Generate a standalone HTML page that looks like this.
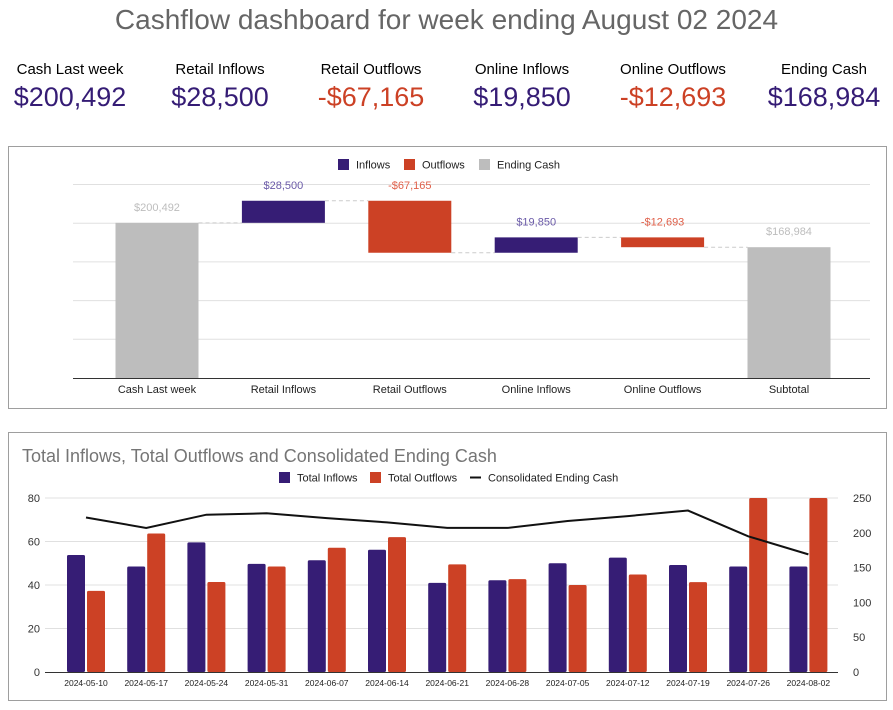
<!DOCTYPE html>
<html><head><meta charset="utf-8"><style>
body{margin:0;width:893px;height:710px;background:#fff;font-family:"Liberation Sans",Arial,sans-serif;position:relative;overflow:hidden}
.title{position:absolute;top:4px;left:0;width:893px;text-align:center;font-size:28px;color:#666}
.kpi{position:absolute;top:61px;width:150px;text-align:center}
.kpi .l{font-size:15px;color:#000}
.kpi .v{font-size:27px;margin-top:4px}
.panel{position:absolute;border:1px solid #9e9e9e;background:#fff}
svg text{font-family:"Liberation Sans",Arial,sans-serif}
</style></head><body>
<div class="title">Cashflow dashboard for week ending August 02 2024</div>
<div class="kpi" style="left:-5px"><div class="l">Cash Last week</div><div class="v" style="color:#351c75">$200,492</div></div>
<div class="kpi" style="left:145px"><div class="l">Retail Inflows</div><div class="v" style="color:#351c75">$28,500</div></div>
<div class="kpi" style="left:296px"><div class="l">Retail Outflows</div><div class="v" style="color:#cc4125">-$67,165</div></div>
<div class="kpi" style="left:447px"><div class="l">Online Inflows</div><div class="v" style="color:#351c75">$19,850</div></div>
<div class="kpi" style="left:598px"><div class="l">Online Outflows</div><div class="v" style="color:#cc4125">-$12,693</div></div>
<div class="kpi" style="left:749px"><div class="l">Ending Cash</div><div class="v" style="color:#351c75">$168,984</div></div>

<div class="panel" style="left:8px;top:146px;width:877px;height:261px"></div>
<svg id="wf" style="position:absolute;left:0;top:0" width="893" height="410"></svg>

<div class="panel" style="left:8px;top:432px;width:877px;height:267px"></div>
<svg id="tr" style="position:absolute;left:0;top:0" width="893" height="710"></svg>

<script>
const wfCats=["Cash Last week","Retail Inflows","Retail Outflows","Online Inflows","Online Outflows","Subtotal"];
const wfValues=[200492,28500,-67165,19850,-12693,168984];
const wfTypes=["total","delta","delta","delta","delta","total"];
const wfLabels=["$200,492","$28,500","-$67,165","$19,850","-$12,693","$168,984"];
const wfTicks=[0,50000,100000,150000,200000,250000];

const trCats=["2024-05-10","2024-05-17","2024-05-24","2024-05-31","2024-06-07","2024-06-14","2024-06-21","2024-06-28","2024-07-05","2024-07-12","2024-07-19","2024-07-26","2024-08-02"];
const trInflows=[53.8,48.5,59.6,49.7,51.4,56.2,41,42.2,50,52.6,49.2,48.5,48.5];
const trOutflows=[37.3,63.7,41.4,48.5,57.1,62,49.5,42.7,40,44.8,41.3,80,80];
const trCash=[222,207,226,228,221,215,207,207,217,224,232,195,169];
const trLeftTicks=[0,20,40,60,80];
const trRightTicks=[0,50,100,150,200,250];

const NS="http://www.w3.org/2000/svg";
function mk(svg,tag,attrs,txt){const e=document.createElementNS(NS,tag);for(const k in attrs)e.setAttribute(k,attrs[k]);if(txt!==undefined)e.textContent=txt;svg.appendChild(e);return e;}
const PUR="#361d75",RED="#cc4125",GRY="#bdbdbd";

(function(){
const s=document.getElementById('wf');
const y=v=>378-(v/250000)*193.5;
const cx=i=>157+i*126.4;
const bw=83;
wfTicks.forEach(t=>{if(t>0){const g=mk(s,'line',{x1:73,x2:870,y1:y(t),y2:y(t),stroke:'#e0e0e0'});}});
let run=0;let prevEnd=null;
wfValues.forEach((v,i)=>{
 let a,b,col;
 if(wfTypes[i]==="total"){a=0;b=v;run=v;col=GRY;}
 else{a=run;b=run+v;run=b;col=v>=0?PUR:RED;}
 const top=y(Math.max(a,b)),bot=y(Math.min(a,b));
 if(prevEnd!==null){const l=mk(s,'line',{x1:cx(i-1)+bw/2,x2:cx(i)-bw/2,y1:y(prevEnd),y2:y(prevEnd),stroke:'#ccc','stroke-dasharray':'4,3'});}
 prevEnd=run;
 const r=mk(s,'rect',{x:cx(i)-bw/2,y:top,width:bw,height:bot-top,fill:col});
 
 
 const lc=wfTypes[i]==="total"?"#bdbdbd":(v>=0?"#6a5aa8":"#e0604a");
 const t=mk(s,'text',{x:cx(i),y:top-12,'text-anchor':'middle','font-size':11,fill:lc},wfLabels[i]);
 
 
 const c=mk(s,'text',{x:cx(i),y:393,'text-anchor':'middle','font-size':11,fill:'#222'},wfCats[i]);
 
 
});
const ax=mk(s,'line',{x1:73,x2:870,y1:378.5,y2:378.5,stroke:'#333'});

const lg=[["Inflows",PUR,338],["Outflows",RED,404],["Ending Cash",GRY,479]];
lg.forEach(([n,c,x])=>{const r=mk(s,'rect',{x:x,y:159,width:11,height:11,fill:c});
const t=mk(s,'text',{x:x+18,y:168.5,'font-size':11,fill:'#222'},n);});
})();

(function(){
const s=document.getElementById('tr');
const yl=v=>672-(v/80)*174;
const yr=v=>672-(v/250)*174;
const cx=i=>86+i*60.2;
const bw=18;
trLeftTicks.forEach(t=>{
 if(t>0){const g=mk(s,'line',{x1:45,x2:838,y1:yl(t),y2:yl(t),stroke:'#e0e0e0'});}
 const tx=mk(s,'text',{x:40,y:yl(t)+4,'text-anchor':'end','font-size':11,fill:'#333'},t);
 
});
trRightTicks.forEach(t=>{const tx=mk(s,'text',{x:853,y:yr(t)+4,'font-size':11,fill:'#333'},t);});
trCats.forEach((c,i)=>{
 const a=mk(s,'rect',{x:cx(i)-bw-1,y:yl(trInflows[i]),width:bw,height:672-yl(trInflows[i]),fill:PUR,rx:1.5});
 
 const b=mk(s,'rect',{x:cx(i)+1,y:yl(trOutflows[i]),width:bw,height:672-yl(trOutflows[i]),fill:RED,rx:1.5});
 
 const t=mk(s,'text',{x:cx(i),y:686,'text-anchor':'middle','font-size':8.5,fill:'#222'},c);
 
});
const pts=trCash.map((v,i)=>cx(i)+','+yr(v)).join(' ');
const pl=mk(s,'polyline',{points:pts,fill:'none',stroke:'#111','stroke-width':2});

const ax=mk(s,'line',{x1:45,x2:838,y1:672.5,y2:672.5,stroke:'#333'});

const ti=mk(s,'text',{x:22,y:462,'font-size':18,fill:'#757575'},"Total Inflows, Total Outflows and Consolidated Ending Cash");

const lg=[["Total Inflows",PUR,279,'r'],["Total Outflows",RED,370,'r'],["Consolidated Ending Cash","#111",470,'l']];
lg.forEach(([n,c,x,k])=>{
 const r=k==='r'?mk(s,'rect',{x:x,y:472,width:11,height:11,fill:c}):mk(s,'rect',{x:x,y:476.5,width:11,height:2,fill:c});
 
 const t=mk(s,'text',{x:x+18,y:481.5,'font-size':11,fill:'#222'},n);
 
});
})();
</script>
</body></html>
